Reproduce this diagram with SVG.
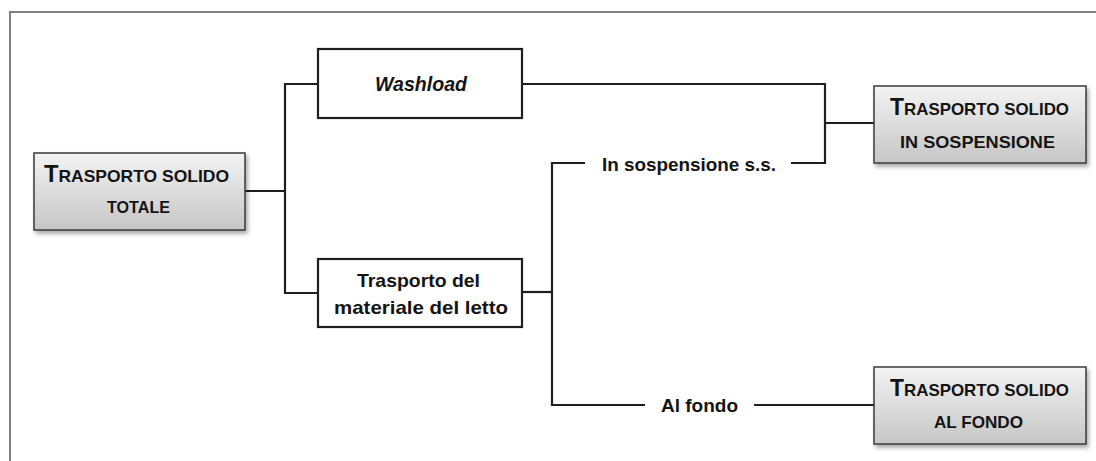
<svg xmlns="http://www.w3.org/2000/svg" width="1096" height="461" viewBox="0 0 1096 461">
<style>
.conn{fill:none;stroke:#1e1e1e;stroke-width:2.2}
.wbox{fill:#ffffff;stroke:#1e1e1e;stroke-width:2.2}
.gbox{fill:url(#grad);stroke:#3a3a3a;stroke-width:1.5;filter:url(#shadow)}
.t{font-family:"Liberation Sans",Arial,sans-serif;font-weight:bold;fill:#141414}
.big{font-size:23px}
.sc{font-size:17px}
</style>
<defs>
<linearGradient id="grad" x1="0" y1="0" x2="0" y2="1">
<stop offset="0" stop-color="#f3f3f3"/>
<stop offset="1" stop-color="#c6c6c6"/>
</linearGradient>
<filter id="shadow" x="-10%" y="-10%" width="125%" height="135%">
<feDropShadow dx="2" dy="3" stdDeviation="2" flood-color="#000" flood-opacity="0.35"/>
</filter>
</defs>
<rect x="0" y="0" width="1096" height="461" fill="#ffffff"/>
<path d="M10,461 V12 H1096" fill="none" stroke="#808080" stroke-width="2"/>
<g id="connectors">
<path class="conn" d="M245,191 H285"/>
<path class="conn" d="M318,84 H285 V293 H318"/>
<path class="conn" d="M522,84 H825 V163 H791"/>
<path class="conn" d="M825,123 H874"/>
<path class="conn" d="M522,292 H552"/>
<path class="conn" d="M585,163 H552 V405 H645"/>
<path class="conn" d="M754,405 H874"/>
</g>
<g id="node-totale">
<rect class="gbox" x="34" y="153" width="211" height="77"/>
<text class="t" x="44" y="182" textLength="185" lengthAdjust="spacingAndGlyphs"><tspan class="big">T</tspan><tspan class="sc">RASPORTO SOLIDO</tspan></text>
<text class="t sc" x="107" y="213" textLength="63" lengthAdjust="spacingAndGlyphs">TOTALE</text>
</g>
<g id="node-washload">
<rect class="wbox" x="318" y="49" width="204" height="69"/>
<text class="t" x="375" y="91" font-size="20" font-style="italic" textLength="92" lengthAdjust="spacingAndGlyphs">Washload</text>
</g>
<g id="node-letto">
<rect class="wbox" x="318" y="259" width="204" height="68"/>
<text class="t" x="357" y="287" font-size="19" textLength="123" lengthAdjust="spacingAndGlyphs">Trasporto del</text>
<text class="t" x="334" y="314" font-size="19" textLength="174" lengthAdjust="spacingAndGlyphs">materiale del letto</text>
</g>
<g id="node-sospensione-ss">
<text class="t" x="602" y="171" font-size="19" textLength="174" lengthAdjust="spacingAndGlyphs">In sospensione s.s.</text>
</g>
<g id="node-alfondo">
<text class="t" x="661" y="412" font-size="19" textLength="77" lengthAdjust="spacingAndGlyphs">Al fondo</text>
</g>
<g id="node-ts-sospensione">
<rect class="gbox" x="874" y="86" width="212" height="77"/>
<text class="t" x="890" y="115" textLength="179" lengthAdjust="spacingAndGlyphs"><tspan class="big">T</tspan><tspan class="sc">RASPORTO SOLIDO</tspan></text>
<text class="t sc" x="900" y="148" textLength="155" lengthAdjust="spacingAndGlyphs">IN SOSPENSIONE</text>
</g>
<g id="node-ts-fondo">
<rect class="gbox" x="874" y="367" width="212" height="77"/>
<text class="t" x="890" y="396" textLength="179" lengthAdjust="spacingAndGlyphs"><tspan class="big">T</tspan><tspan class="sc">RASPORTO SOLIDO</tspan></text>
<text class="t sc" x="934" y="428" textLength="89" lengthAdjust="spacingAndGlyphs">AL FONDO</text>
</g>
</svg>
